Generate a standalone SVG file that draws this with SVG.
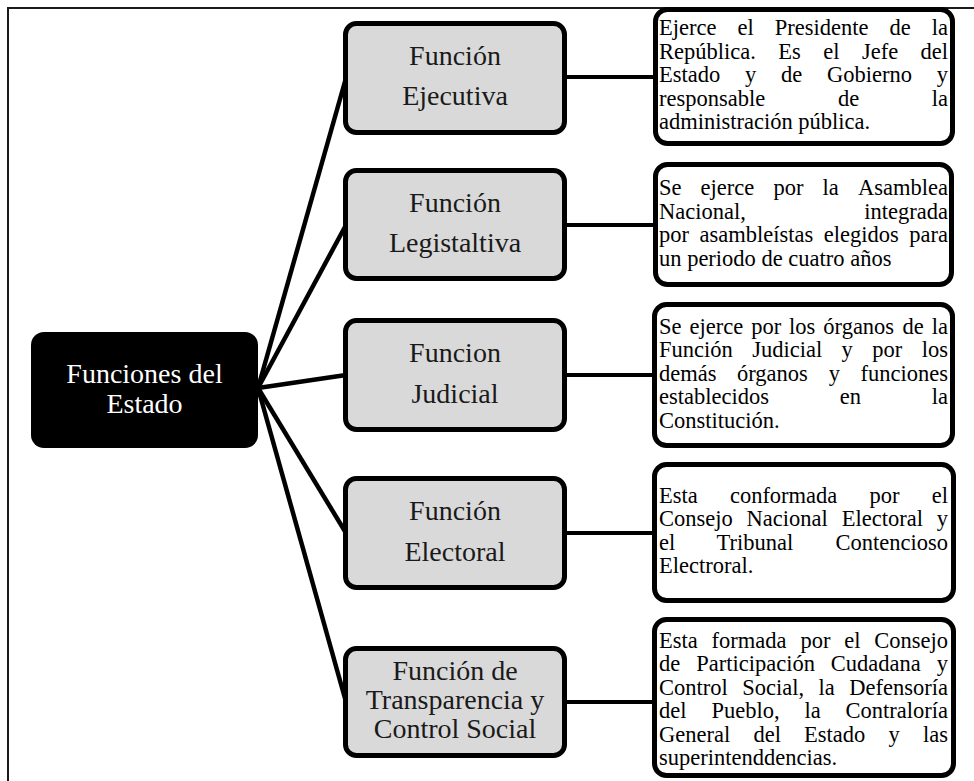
<svg xmlns="http://www.w3.org/2000/svg" width="974" height="781" viewBox="0 0 974 781">
  <style>
    .frame { fill: none; stroke: #1a1a1a; stroke-width: 2; }
    .link { stroke: #000; stroke-width: 4.5; fill: none; stroke-linecap: butt; }
    .root { fill: #000; }
    .func { fill: #d9d9d9; stroke: #000; stroke-width: 5; }
    .desc { fill: #fff; stroke: #000; stroke-width: 5; }
    .t-root { font-family: "Liberation Serif", "Times New Roman", serif; font-size: 28px; fill: #fff; text-anchor: middle; }
    .t-func { font-family: "Liberation Serif", "Times New Roman", serif; font-size: 28px; fill: #1a1a1a; text-anchor: middle; }
    .t-desc { font-family: "Liberation Serif", "Times New Roman", serif; font-size: 22.5px; fill: #000; }
  </style>

  <!-- page frame -->
  <rect class="frame" x="8" y="8" width="990" height="800"/>

  <!-- connectors -->
  <g id="connectors">
    <line class="link" x1="258" y1="388" x2="346" y2="78"/>
    <line class="link" x1="258" y1="388" x2="346" y2="225"/>
    <line class="link" x1="258" y1="388" x2="346" y2="375"/>
    <line class="link" x1="258" y1="388" x2="346" y2="533"/>
    <line class="link" x1="258" y1="388" x2="346" y2="702"/>
    <line class="link" x1="565" y1="77" x2="656" y2="77" style="stroke-width:4"/>
    <line class="link" x1="565" y1="225" x2="656" y2="225" style="stroke-width:4"/>
    <line class="link" x1="565" y1="375" x2="656" y2="375" style="stroke-width:4"/>
    <line class="link" x1="565" y1="533" x2="656" y2="533" style="stroke-width:4"/>
    <line class="link" x1="565" y1="702" x2="656" y2="702" style="stroke-width:4"/>
  </g>

  <!-- root -->
  <g id="funciones-del-estado">
    <rect class="root" x="31" y="332" width="227" height="116" rx="13"/>
    <text class="t-root" x="144.5" y="383">Funciones del</text>
    <text class="t-root" x="144.5" y="413">Estado</text>
  </g>

  <!-- functions -->
  <g id="funcion-ejecutiva">
    <rect class="func" x="345.5" y="23.5" width="219" height="109" rx="11"/>
    <text class="t-func" x="455" y="65">Función</text>
    <text class="t-func" x="455" y="105">Ejecutiva</text>
  </g>
  <g id="funcion-legislativa">
    <rect class="func" x="345.5" y="170.5" width="219" height="108" rx="11"/>
    <text class="t-func" x="455" y="212">Función</text>
    <text class="t-func" x="455" y="252">Legistaltiva</text>
  </g>
  <g id="funcion-judicial">
    <rect class="func" x="345.5" y="320.5" width="219" height="109" rx="11"/>
    <text class="t-func" x="455" y="362">Funcion</text>
    <text class="t-func" x="455" y="403">Judicial</text>
  </g>
  <g id="funcion-electoral">
    <rect class="func" x="345.5" y="478.5" width="219" height="109" rx="11"/>
    <text class="t-func" x="455" y="520">Función</text>
    <text class="t-func" x="455" y="561">Electoral</text>
  </g>
  <g id="funcion-transparencia">
    <rect class="func" x="345.5" y="648.5" width="219" height="107" rx="11"/>
    <text class="t-func" x="455" y="680">Función de</text>
    <text class="t-func" x="455" y="709">Transparencia y</text>
    <text class="t-func" x="455" y="738">Control Social</text>
  </g>

  <!-- descriptions (justified lines, one tspan per word) -->
  <g id="desc-ejecutiva">
    <rect class="desc" x="655.5" y="9.5" width="297" height="134" rx="12"/>
    <text class="t-desc" y="35"><tspan x="659">Ejerce</tspan><tspan x="737.5">el</tspan><tspan x="774.7">Presidente</tspan><tspan x="889.5">de</tspan><tspan x="931.7">la</tspan></text>
    <text class="t-desc" y="58.5"><tspan x="659">República.</tspan><tspan x="778.3">Es</tspan><tspan x="823.2">el</tspan><tspan x="861.9">Jefe</tspan><tspan x="920.5">del</tspan></text>
    <text class="t-desc" y="82"><tspan x="659">Estado</tspan><tspan x="745">y</tspan><tspan x="781">de</tspan><tspan x="827">Gobierno</tspan><tspan x="936.8">y</tspan></text>
    <text class="t-desc" y="105.5"><tspan x="659">responsable</tspan><tspan x="837.9">de</tspan><tspan x="931.8">la</tspan></text>
    <text class="t-desc" y="129" x="659">administración pública.</text>
  </g>
  <g id="desc-legislativa">
    <rect class="desc" x="655.5" y="164.5" width="296" height="120" rx="12"/>
    <text class="t-desc" y="195"><tspan x="659">Se</tspan><tspan x="700.6">ejerce</tspan><tspan x="773.5">por</tspan><tspan x="822.6">la</tspan><tspan x="858">Asamblea</tspan></text>
    <text class="t-desc" y="218.5"><tspan x="659">Nacional,</tspan><tspan x="864.3">integrada</tspan></text>
    <text class="t-desc" y="242"><tspan x="659">por</tspan><tspan x="699.5">asambleístas</tspan><tspan x="823.8">elegidos</tspan><tspan x="909.3">para</tspan></text>
    <text class="t-desc" y="265.5" x="659">un periodo de cuatro años</text>
  </g>
  <g id="desc-judicial">
    <rect class="desc" x="654.5" y="304.5" width="298" height="141" rx="12"/>
    <text class="t-desc" y="333.5"><tspan x="659">Se</tspan><tspan x="689.5">ejerce</tspan><tspan x="751.2">por</tspan><tspan x="789.1">los</tspan><tspan x="823.3">órganos</tspan><tspan x="902.6">de</tspan><tspan x="931.8">la</tspan></text>
    <text class="t-desc" y="357"><tspan x="659">Función</tspan><tspan x="752.2">Judicial</tspan><tspan x="841.6">y</tspan><tspan x="872.3">por</tspan><tspan x="921.8">los</tspan></text>
    <text class="t-desc" y="380.5"><tspan x="659">demás</tspan><tspan x="737">órganos</tspan><tspan x="828.8">y</tspan><tspan x="860.5">funciones</tspan></text>
    <text class="t-desc" y="404"><tspan x="659">establecidos</tspan><tspan x="839.8">en</tspan><tspan x="931.8">la</tspan></text>
    <text class="t-desc" y="427.5" x="659">Constitución.</text>
  </g>
  <g id="desc-electoral">
    <rect class="desc" x="654.5" y="464.5" width="299" height="136" rx="12"/>
    <text class="t-desc" y="502.8"><tspan x="659">Esta</tspan><tspan x="729.9">conformada</tspan><tspan x="869.6">por</tspan><tspan x="931.8">el</tspan></text>
    <text class="t-desc" y="526.3"><tspan x="659">Consejo</tspan><tspan x="746.6">Nacional</tspan><tspan x="841.7">Electoral</tspan><tspan x="936.8">y</tspan></text>
    <text class="t-desc" y="549.8"><tspan x="659">el</tspan><tspan x="716.6">Tribunal</tspan><tspan x="835.5">Contencioso</tspan></text>
    <text class="t-desc" y="573.3" x="659">Electroral.</text>
  </g>
  <g id="desc-transparencia">
    <rect class="desc" x="654.5" y="619.5" width="299" height="156" rx="12"/>
    <text class="t-desc" y="647.5"><tspan x="659">Esta</tspan><tspan x="711.6">formada</tspan><tspan x="800.4">por</tspan><tspan x="844.2">el</tspan><tspan x="874.2">Consejo</tspan></text>
    <text class="t-desc" y="671"><tspan x="659">de</tspan><tspan x="696.2">Participación</tspan><tspan x="830.8">Cudadana</tspan><tspan x="936.7">y</tspan></text>
    <text class="t-desc" y="694.5"><tspan x="659">Control</tspan><tspan x="742.2">Social,</tspan><tspan x="818.6">la</tspan><tspan x="849.3">Defensoría</tspan></text>
    <text class="t-desc" y="718"><tspan x="659">del</tspan><tspan x="711.4">Pueblo,</tspan><tspan x="804.4">la</tspan><tspan x="845.5">Contraloría</tspan></text>
    <text class="t-desc" y="741.5"><tspan x="659">General</tspan><tspan x="753.4">del</tspan><tspan x="804.1">Estado</tspan><tspan x="888.6">y</tspan><tspan x="923">las</tspan></text>
    <text class="t-desc" y="765" x="659">superintenddencias.</text>
  </g>
</svg>
